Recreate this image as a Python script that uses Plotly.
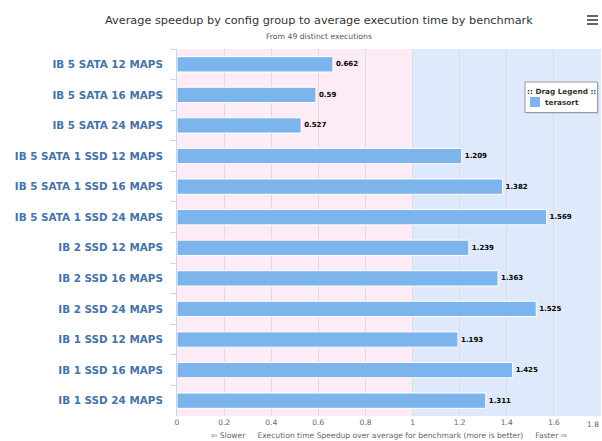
import plotly.graph_objects as go

# Config groups (top to bottom) and their speedup for the terasort benchmark
config_groups = [
    "IB 5 SATA 12 MAPS",
    "IB 5 SATA 16 MAPS",
    "IB 5 SATA 24 MAPS",
    "IB 5 SATA 1 SSD 12 MAPS",
    "IB 5 SATA 1 SSD 16 MAPS",
    "IB 5 SATA 1 SSD 24 MAPS",
    "IB 2 SSD 12 MAPS",
    "IB 2 SSD 16 MAPS",
    "IB 2 SSD 24 MAPS",
    "IB 1 SSD 12 MAPS",
    "IB 1 SSD 16 MAPS",
    "IB 1 SSD 24 MAPS",
]
terasort_speedup = [0.662, 0.59, 0.527, 1.209, 1.382, 1.569,
                    1.239, 1.363, 1.525, 1.193, 1.425, 1.311]
x_ticks = [0, 0.2, 0.4, 0.6, 0.8, 1, 1.2, 1.4, 1.6, 1.8]
x_tick_labels = ["0", "0.2", "0.4", "0.6", "0.8", "1", "1.2", "1.4", "1.6", "1.8"]
series_name = "terasort"
bar_color = "#7cb5ec"

FONT = "DejaVu Sans"
L, T, PW, PH = 177, 49, 424, 367  # plot area in pixels


def px_x(px):
    return (px - L) / PW


def px_y(py):
    return (T + PH - py) / PH


fig = go.Figure()
fig.add_trace(go.Bar(
    y=config_groups,
    x=terasort_speedup,
    orientation="h",
    name=series_name,
    marker=dict(color=bar_color, line=dict(color="#ffffff", width=1)),
    text=[f"{v:g}" for v in terasort_speedup],
    textposition="outside",
    textfont=dict(family=FONT, size=7, color="#000000", weight="bold"),
    cliponaxis=False,
    showlegend=False,
))

# Slower / faster bands
fig.add_shape(type="rect", xref="x", yref="paper", x0=0, x1=1, y0=0, y1=1,
              fillcolor="#fdebf5", line=dict(width=0), layer="below")
fig.add_shape(type="rect", xref="x", yref="paper", x0=1, x1=1.8, y0=0, y1=1,
              fillcolor="#dee9fb", line=dict(width=0), layer="below")

# Last x tick label, kept inside the chart edge
fig.add_annotation(
    text=x_tick_labels[-1], xref="x", yref="paper",
    x=x_ticks[-1], y=px_y(424), xanchor="right", yanchor="middle",
    showarrow=False, font=dict(family=FONT, size=7.5, color="#666666"),
)

# Menu icon
for py in (16, 20, 24):
    fig.add_shape(type="line", xref="paper", yref="paper",
                  x0=px_x(587), x1=px_x(598), y0=px_y(py), y1=px_y(py),
                  line=dict(color="#666666", width=2))

# Floating legend box
fig.add_shape(type="rect", xref="paper", yref="paper",
              x0=px_x(527), x1=px_x(599), y0=px_y(84), y1=px_y(114),
              fillcolor="rgba(0,0,0,0.08)", line=dict(width=0))
fig.add_shape(type="rect", xref="paper", yref="paper",
              x0=px_x(525), x1=px_x(597.5), y0=px_y(82), y1=px_y(112.5),
              fillcolor="#ffffff", line=dict(color="#999999", width=1))
fig.add_annotation(
    text="<b>:: Drag Legend ::</b>", xref="paper", yref="paper",
    x=px_x(561.5), y=px_y(92), xanchor="center", yanchor="middle",
    showarrow=False, font=dict(family=FONT, size=7.3, color="#333333"),
)
fig.add_shape(type="rect", xref="paper", yref="paper",
              x0=px_x(530), x1=px_x(540), y0=px_y(97), y1=px_y(107),
              fillcolor=bar_color, line=dict(width=0))
fig.add_annotation(
    text=f"<b>{series_name}</b>", xref="paper", yref="paper",
    x=px_x(543), y=px_y(102), xanchor="left", yanchor="middle",
    showarrow=False, font=dict(family=FONT, size=7.3, color="#333333"),
)

fig.add_annotation(
    text="Average speedup by config group to average execution time by benchmark",
    xref="paper", yref="paper", x=px_x(319), y=px_y(20),
    xanchor="center", yanchor="middle", showarrow=False,
    font=dict(family=FONT, size=11.3, color="#333333"),
)
fig.add_annotation(
    text="From 49 distinct executions",
    xref="paper", yref="paper", x=px_x(319), y=px_y(36),
    xanchor="center", yanchor="middle", showarrow=False,
    font=dict(family=FONT, size=7.7, color="#555555"),
)
fig.add_annotation(
    text="⇦ Slower     Execution time Speedup over average for benchmark (more is better)     Faster ⇨",
    xref="paper", yref="paper", x=px_x(389), y=px_y(436),
    xanchor="center", yanchor="middle", showarrow=False,
    font=dict(family=FONT, size=7.6, color="#666666"),
)

fig.update_layout(
    width=602, height=441,
    margin=dict(l=L, r=602 - L - PW, t=T, b=441 - T - PH, autoexpand=False),
    paper_bgcolor="#ffffff",
    plot_bgcolor="rgba(0,0,0,0)",
    bargap=0.5,
    showlegend=False,
    xaxis=dict(
        range=[0, 1.8], automargin=False,
        tickvals=x_ticks[:-1], ticktext=x_tick_labels[:-1],
        showgrid=True, gridcolor="#dcdcdc", gridwidth=1,
        zeroline=False, showline=False,
        tickfont=dict(family=FONT, size=7.5, color="#666666"),
        ticks="", ticklen=0,
    ),
    yaxis=dict(
        autorange="reversed", automargin=False,
        showgrid=False, zeroline=False,
        showline=True, linecolor="#ccd6eb", linewidth=1,
        ticks="outside", tickson="boundaries", ticklen=6, tickcolor="#ccd6eb",
        ticklabelstandoff=11,
        tickfont=dict(family=FONT, size=10.4, color="#4572a7", weight="bold"),
    ),
)

fig.write_html("out.html")
